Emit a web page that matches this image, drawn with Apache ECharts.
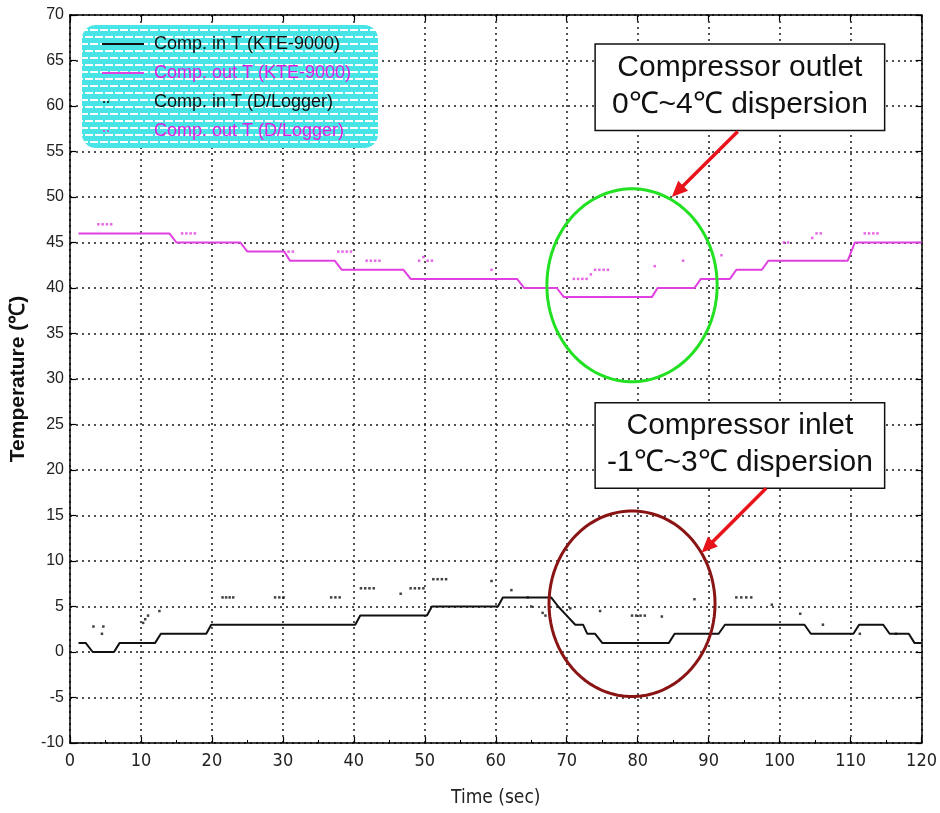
<!DOCTYPE html>
<html>
<head>
<meta charset="utf-8">
<script src="https://cdn.jsdelivr.net/npm/echarts@6/dist/echarts.min.js"></script>
<style>
html, body { margin: 0; padding: 0; background: #fff; }
#main { width: 940px; height: 813px; }
</style>
</head>
<body>
<div id="main"></div>
<script>
(function () {
    "use strict";

    var seriesNames = ['Comp. in T (KTE-9000)', 'Comp. out T (KTE-9000)',
        'Comp. in T (D/Logger)', 'Comp. out T (D/Logger)'];

    // KTE-9000 readings (stepped lines)
    var inKteTime = [1.2, 2.2, 3.2, 6.2, 7.0, 12.0, 12.8, 19.2, 19.9, 40.2, 40.9, 50.3, 51.0, 60.3, 61.0, 67.8, 68.8, 70.0, 71.2, 72.3, 72.9, 74.0, 75.0, 84.4, 85.2, 91.4, 92.3, 103.5, 104.4, 110.4, 111.2, 114.6, 115.5, 118.2, 119.0, 120];
    var inKteTemp = [1, 1, 0, 0, 1, 1, 2, 2, 3, 3, 4, 4, 5, 5, 6, 6, 5, 4, 3, 3, 2, 2, 1, 1, 2, 2, 3, 3, 2, 2, 3, 3, 2, 2, 1, 1];
    var outKteTime = [1.2, 14.0, 15.0, 24.0, 25.0, 30.2, 31.0, 37.3, 38.3, 47.0, 48.0, 63.0, 64.0, 68.6, 69.6, 82.0, 82.8, 88.0, 88.9, 93.0, 93.9, 97.5, 98.4, 109.6, 110.6, 120];
    var outKteTemp = [46, 46, 45, 45, 44, 44, 43, 43, 42, 42, 41, 41, 40, 40, 39, 39, 40, 40, 41, 41, 42, 42, 43, 43, 45, 45];

    // D/Logger readings (dots)
    var inLogTime = [3.3, 4.5, 4.7, 10.3, 10.6, 11.0, 12.6, 21.5, 22.0, 22.5, 23.0, 28.9, 29.5, 30.1, 36.8, 37.4, 38.0, 41.0, 41.6, 42.2, 42.8, 46.6, 48.0, 48.6, 49.2, 49.8, 51.2, 51.8, 52.4, 53.0, 59.4, 62.2, 64.5, 65.0, 66.6, 67.0, 70.5, 74.7, 79.2, 79.8, 80.4, 81.0, 83.4, 88.0, 93.9, 94.6, 95.3, 96.0, 98.9, 102.9, 106.1, 111.3, 116.4];
    var inLogTemp = [2.8, 2.0, 2.8, 3.2, 3.6, 4.0, 4.5, 6, 6, 6, 6, 6, 6, 6, 6, 6, 6, 7, 7, 7, 7, 6.4, 7, 7, 7, 7, 8, 8, 8, 8, 7.8, 6.8, 6, 5, 4.3, 4, 4.8, 4.5, 4, 4, 4, 4, 3.9, 5.8, 6, 6, 6, 6, 5.2, 4.2, 3.0, 2.0, 2.0];
    var outLogTime = [4.0, 4.6, 5.2, 5.8, 15.8, 16.4, 17.0, 17.6, 30.8, 31.4, 37.8, 38.4, 39.0, 39.6, 41.8, 42.4, 43.0, 43.6, 49.2, 49.8, 50.4, 51.0, 59.4, 71.0, 71.6, 72.2, 72.8, 73.4, 74.0, 74.6, 75.2, 75.8, 82.4, 86.4, 91.8, 100.6, 101.2, 104.6, 105.2, 105.8, 112.0, 112.6, 113.2, 113.8];
    var outLogTemp = [47, 47, 47, 47, 46, 46, 46, 46, 44, 44, 44, 44, 44, 44, 43, 43, 43, 43, 43, 43.4, 43, 43, 42, 41, 41, 41, 41, 41.5, 42, 42, 42, 42, 42.4, 43, 43.6, 45, 45, 45.5, 46, 46, 46, 46, 46, 46];

    // annotations, in data units (time, temp)
    var noteBoxes = [[74.0, 66.8, 114.8, 57.3], [74.0, 27.4, 114.8, 18.0]];
    var noteTexts = ['Compressor outlet\n0\u2103~4\u2103 dispersion', 'Compressor inlet\n-1\u2103~3\u2103 dispersion'];
    var noteArrows = [[94.1, 57.2, 84.8, 50.0], [98.1, 18.0, 89.0, 10.9]];
    var noteRings = [[79.2, 40.3, 12.0, 10.6], [79.2, 5.3, 11.7, 10.2]];
    var ringColors = ['#22e022', '#8a1414'];

    var BLACK = '#111111';
    var MAGENTA = '#e040e0';
    var SANS = '"Liberation Sans", Arial, sans-serif';
    var NARROW = '"Liberation Sans Narrow", "DejaVu Sans Condensed", "Liberation Sans", Arial, sans-serif';

    function pairs(xs, ys) {
        return xs.map(function (x, i) { return [x, ys[i]]; });
    }

    function brickPattern() {
        var c = document.createElement('canvas');
        c.width = 10;
        c.height = 14;
        var g = c.getContext('2d');
        g.fillStyle = '#48e4e6';
        g.fillRect(0, 0, 10, 14);
        g.fillStyle = '#ffffff';
        g.fillRect(0, 1, 8, 2);
        g.fillRect(5, 8, 5, 2);
        g.fillRect(0, 8, 3, 2);
        return c;
    }

    var lineIcon = 'path://M0,0M42,14M0,6h42v2h-42z';
    var dotIcon = 'path://M0,0M42,14M1,6h2v2h-2zM5,6h2v2h-2z';
    var gridDots = { color: '#1a1a1a', width: 1.5, type: [2, 4] };
    var frame = { show: true, onZero: false, lineStyle: { color: '#000', width: 1.5 } };

    var chart = echarts.init(document.getElementById('main'));

    var option = {
        backgroundColor: '#ffffff',
        animation: false,
        grid: { left: 63, right: 18, top: 15, bottom: 70 },
        legend: {
            orient: 'vertical',
            left: 97,
            top: 29,
            itemWidth: 42,
            itemHeight: 14,
            itemGap: 9,
            selectedMode: false,
            z: 10,
            textStyle: { fontFamily: SANS, fontSize: 18, lineHeight: 20, padding: [0, 0, 0, 5] },
            data: [
                { name: seriesNames[0], icon: lineIcon, textStyle: { color: BLACK } },
                { name: seriesNames[1], icon: lineIcon, textStyle: { color: '#e01ee0' } },
                { name: seriesNames[2], icon: dotIcon, textStyle: { color: BLACK } },
                { name: seriesNames[3], icon: dotIcon, textStyle: { color: '#e01ee0' } }
            ]
        },
        xAxis: [{
            type: 'value', min: 0, max: 120, interval: 10,
            name: 'Time (sec)', nameLocation: 'middle', nameGap: 46,
            nameTextStyle: { fontFamily: NARROW, fontSize: 19, color: '#222' },
            axisLine: frame,
            axisTick: { inside: true, length: 6, lineStyle: { color: '#000', width: 1.2 } },
            minorTick: { show: true, splitNumber: 2, length: 3, lineStyle: { color: '#000', width: 1 } },
            axisLabel: { fontFamily: NARROW, fontSize: 18, color: '#222', margin: 9 },
            splitLine: { show: true, lineStyle: gridDots }
        }, {
            type: 'value', min: 0, max: 120, interval: 10, position: 'top',
            axisLine: frame,
            axisTick: { inside: true, length: 6, lineStyle: { color: '#000', width: 1.2 } },
            axisLabel: { show: false },
            splitLine: { show: false }
        }],
        yAxis: [{
            type: 'value', min: -10, max: 70, interval: 5,
            name: 'Temperature (\u2103)', nameLocation: 'middle', nameGap: 41,
            nameTextStyle: { fontFamily: SANS, fontSize: 21, fontWeight: 'bold', color: '#111' },
            axisLine: frame,
            axisTick: { inside: true, length: 6, lineStyle: { color: '#000', width: 1.2 } },
            axisLabel: { fontFamily: SANS, fontSize: 16, color: '#222', margin: 6 },
            splitLine: { show: true, lineStyle: gridDots }
        }, {
            type: 'value', min: -10, max: 70, interval: 5, position: 'right',
            axisLine: frame,
            axisTick: { inside: true, length: 6, lineStyle: { color: '#000', width: 1.2 } },
            axisLabel: { show: false },
            splitLine: { show: false }
        }],
        series: [{
            name: seriesNames[0], type: 'line', symbol: 'none', z: 4,
            itemStyle: { color: BLACK },
            lineStyle: { color: BLACK, width: 2 },
            data: pairs(inKteTime, inKteTemp)
        }, {
            name: seriesNames[1], type: 'line', symbol: 'none', z: 4,
            itemStyle: { color: MAGENTA },
            lineStyle: { color: MAGENTA, width: 2 },
            data: pairs(outKteTime, outKteTemp)
        }, {
            name: seriesNames[2], type: 'scatter', symbol: 'rect', symbolSize: 2.5, z: 5,
            itemStyle: { color: BLACK },
            data: pairs(inLogTime, inLogTemp)
        }, {
            name: seriesNames[3], type: 'scatter', symbol: 'rect', symbolSize: 2.5, z: 5,
            itemStyle: { color: MAGENTA },
            data: pairs(outLogTime, outLogTemp)
        }]
    };
    chart.setOption(option);

    // legend panel, rings, boxes and arrows drawn on top
    var px = function (p) { return chart.convertToPixel({ gridIndex: 0 }, p); };
    var els = [];

    els.push({
        type: 'rect', z: 3,
        shape: { x: 82, y: 25, width: 296, height: 123, r: 14 },
        style: { fill: { image: brickPattern(), repeat: 'repeat' }, stroke: null }
    });

    noteRings.forEach(function (r, k) {
        var pts = [];
        for (var i = 0; i < 90; i++) {
            var a = i / 90 * Math.PI * 2;
            pts.push(px([r[0] + r[2] * Math.cos(a), r[1] + r[3] * Math.sin(a)]));
        }
        els.push({
            type: 'polygon', z: 20,
            shape: { points: pts },
            style: { fill: null, stroke: ringColors[k], lineWidth: 3 }
        });
    });

    noteBoxes.forEach(function (b, k) {
        var a = px([b[0], b[1]]);
        var c = px([b[2], b[3]]);
        els.push({
            type: 'rect', z: 21,
            shape: { x: a[0], y: a[1], width: c[0] - a[0], height: c[1] - a[1] },
            style: { fill: '#ffffff', stroke: '#111', lineWidth: 1.5 }
        });
        els.push({
            type: 'text', z: 22,
            x: (a[0] + c[0]) / 2, y: a[1] + 42,
            style: {
                text: noteTexts[k], font: '30px ' + SANS,
                fill: '#111', lineHeight: 37,
                align: 'center', verticalAlign: 'middle',
                textAlign: 'center', textVerticalAlign: 'middle'
            }
        });
    });

    noteArrows.forEach(function (w) {
        var s = px([w[0], w[1]]);
        var t = px([w[2], w[3]]);
        var dx = t[0] - s[0], dy = t[1] - s[1];
        var len = Math.sqrt(dx * dx + dy * dy);
        var ux = dx / len, uy = dy / len;
        var bx = t[0] - ux * 16, by = t[1] - uy * 16;
        els.push({
            type: 'line', z: 23,
            shape: { x1: s[0], y1: s[1], x2: bx + ux * 2, y2: by + uy * 2 },
            style: { stroke: '#e8141c', lineWidth: 3.5 }
        });
        els.push({
            type: 'polygon', z: 23,
            shape: { points: [t, [bx - uy * 7, by + ux * 7], [bx + uy * 7, by - ux * 7]] },
            style: { fill: '#e8141c' }
        });
    });

    chart.setOption({ graphic: { elements: els } });
})();
</script>
</body>
</html>
